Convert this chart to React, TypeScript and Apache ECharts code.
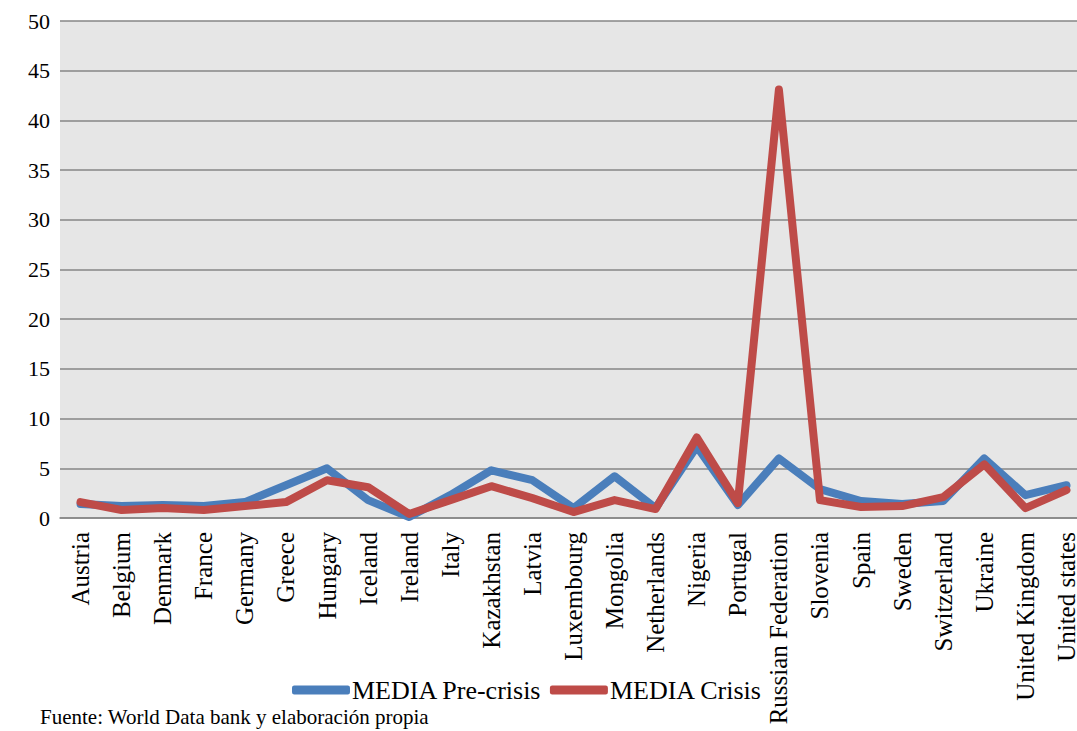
import React, { useEffect, useRef } from "react";
import * as echarts from "echarts";

const categories = [
  "Austria", "Belgium", "Denmark", "France", "Germany", "Greece", "Hungary",
  "Iceland", "Ireland", "Italy", "Kazakhstan", "Latvia", "Luxembourg",
  "Mongolia", "Netherlands", "Nigeria", "Portugal", "Russian Federation",
  "Slovenia", "Spain", "Sweden", "Switzerland", "Ukraine", "United Kingdom",
  "United states",
];

const preCrisis = [
  1.4, 1.2, 1.3, 1.2, 1.6, 3.3, 5.0, 1.8, 0.1, 2.3, 4.8, 3.8, 1.0, 4.2, 1.0,
  7.2, 1.3, 6.0, 2.9, 1.7, 1.4, 1.7, 6.0, 2.3, 3.3,
];

const crisis = [
  1.6, 0.8, 1.0, 0.8, 1.2, 1.6, 3.8, 3.1, 0.4, 1.8, 3.2, 2.0, 0.6, 1.8, 0.9,
  8.1, 1.5, 43.1, 1.8, 1.1, 1.2, 2.1, 5.4, 1.0, 2.8,
];

const seriesNames = ["MEDIA Pre-crisis", "MEDIA Crisis"];
const yTicks = { min: 0, max: 50, interval: 5 };
const sourceNote = "Fuente: World Data bank y elaboración propia";

const FONT = "'Liberation Serif', 'DejaVu Serif', serif";

export default function App() {
  const ref = useRef<HTMLDivElement>(null);

  useEffect(() => {
    if (!ref.current) return;
    const chart = echarts.init(ref.current, undefined, { renderer: "svg" });
    chart.setOption({
      animation: false,
      backgroundColor: "#ffffff",
      textStyle: { fontFamily: FONT, color: "#000" },
      grid: {
        left: 60,
        right: -10,
        top: 21,
        bottom: 213,
        outerBoundsMode: "none",
        containLabel: false,
        show: true,
        backgroundColor: "#e6e6e6",
        borderWidth: 0,
      },
      legend: {
        left: 287,
        top: 672,
        itemWidth: 58,
        itemHeight: 9,
        itemGap: 8,
        icon: "roundRect",
        textStyle: { fontFamily: FONT, fontSize: 26, color: "#000", padding: [0, 0, 0, -3] },
        data: seriesNames,
      },
      xAxis: {
        type: "category",
        data: categories,
        boundaryGap: true,
        axisLine: { show: true, lineStyle: { color: "#868686", width: 1.5 } },
        axisTick: { show: false },
        axisLabel: {
          interval: 0,
          rotate: 90,
          margin: 14,
          fontFamily: FONT,
          fontSize: 25,
          color: "#000",
        },
      },
      yAxis: {
        type: "value",
        min: yTicks.min,
        max: yTicks.max,
        interval: yTicks.interval,
        axisLine: { show: false },
        axisTick: { show: false },
        splitLine: { lineStyle: { color: "#868686", width: 1.5 } },
        axisLabel: { margin: 10, fontFamily: FONT, fontSize: 22, color: "#000" },
      },
      series: [
        {
          name: seriesNames[0],
          type: "line",
          data: preCrisis,
          symbol: "none",
          smooth: false,
          itemStyle: { color: "#4a7ebb" },
          lineStyle: { color: "#4a7ebb", width: 8, cap: "round", join: "round" },
        },
        {
          name: seriesNames[1],
          type: "line",
          data: crisis,
          symbol: "none",
          smooth: false,
          itemStyle: { color: "#be4b48" },
          lineStyle: { color: "#be4b48", width: 8, cap: "round", join: "round" },
        },
      ],
      graphic: [
        {
          type: "text",
          left: 40,
          top: 706,
          style: { text: sourceNote, fontFamily: FONT, fontSize: 21, fill: "#000" },
        },
      ],
    });
    return () => chart.dispose();
  }, []);

  return (
    <div
      ref={ref}
      style={{ position: "absolute", left: 0, top: 0, width: 1077, height: 731 }}
    />
  );
}
